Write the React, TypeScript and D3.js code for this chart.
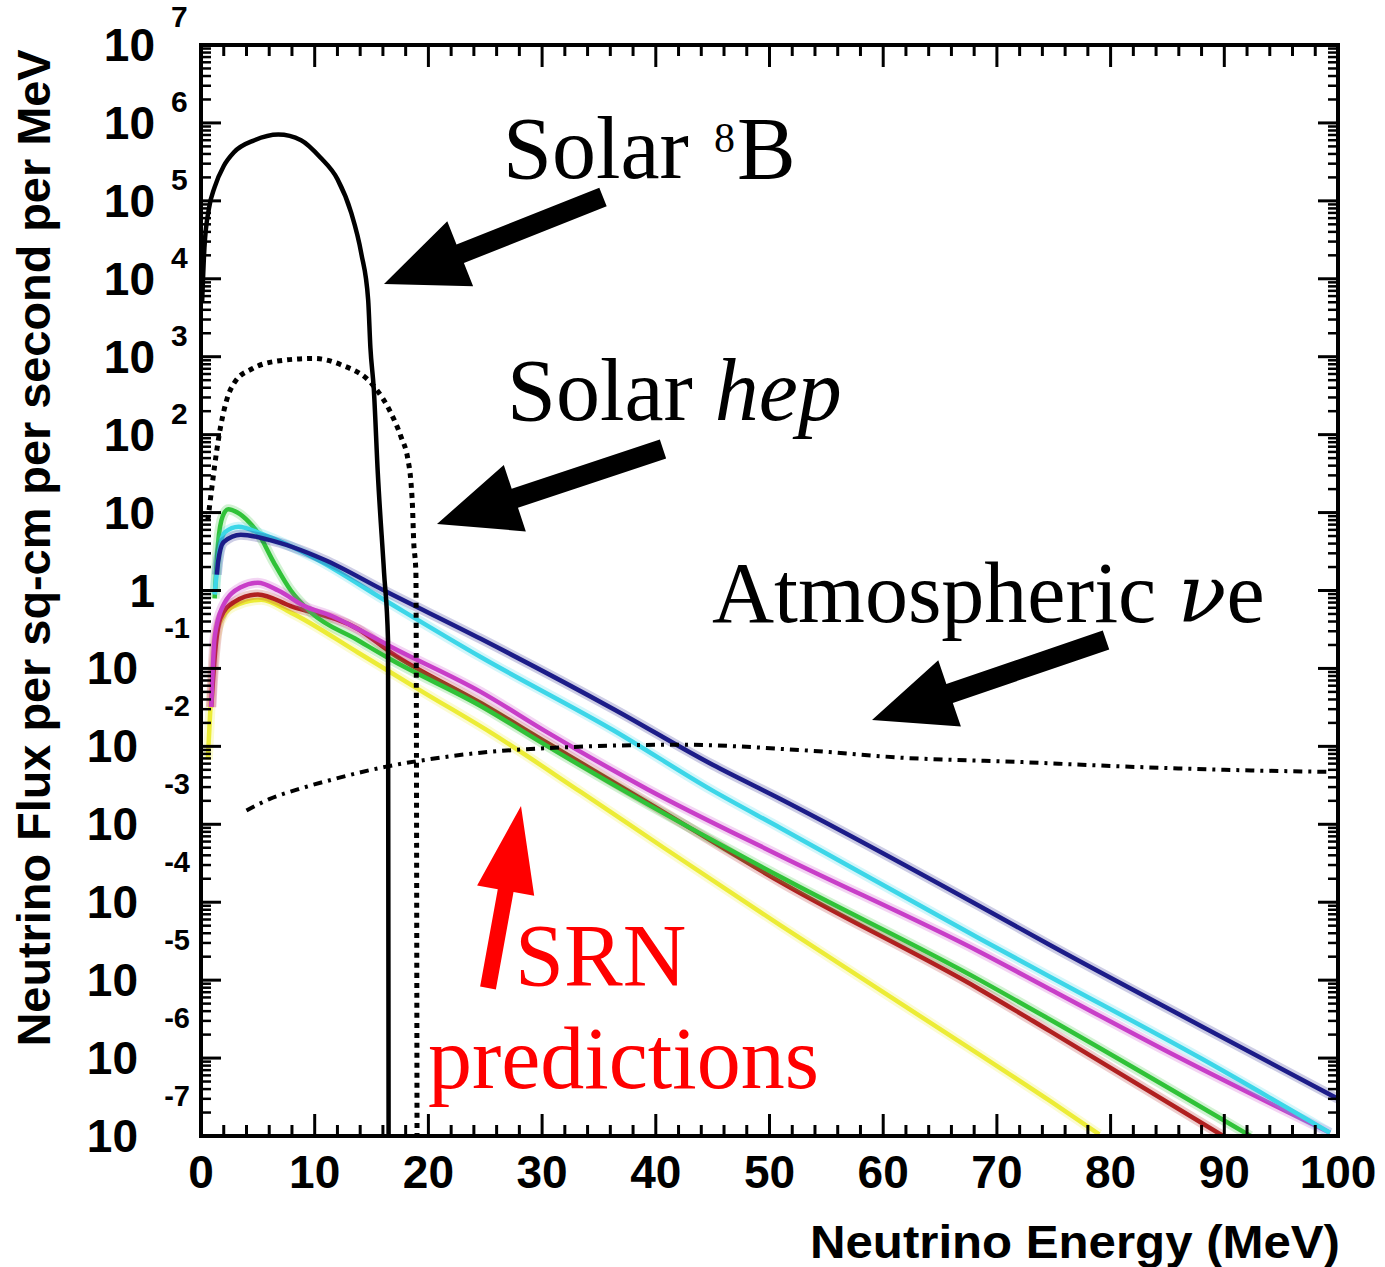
import React from 'react';
import * as d3 from 'd3';

// axes
const xMajorTicks = [0, 10, 20, 30, 40, 50, 60, 70, 80, 90, 100];
const xMinorStep = 2;
const yDecades = [7, 6, 5, 4, 3, 2, 1, 0, -1, -2, -3, -4, -5, -6, -7];

// Solar 8B (solid black)
const b8Energy = [0.1, 0.3, 0.7, 1.2, 2.0, 2.9, 4.7, 6.8, 8.8, 10.5, 12.0, 13.2, 14.1, 14.7, 14.9, 15.2, 15.55, 16.1, 16.45, 16.5];
const b8Flux = [5e3, 2.5e4, 8e4, 1.5e5, 2.8e5, 4.2e5, 6.0e5, 7.1e5, 6.0e5, 3.6e5, 1.9e5, 7.1e4, 2.1e4, 5.4e3, 1.3e3, 3.8e2, 32, 1.7, 0.23, 1e-7];

// Solar hep (dotted black)
const hepEnergy = [0.6, 0.9, 1.2, 1.6, 2.2, 3.0, 4.5, 6.5, 9.9, 12.3, 15.2, 16.7, 17.6, 18.2, 18.45, 18.6, 18.7, 18.9, 19.0];
const hepFlux = [8, 18, 40, 1.0e2, 2.6e2, 4.8e2, 7.0e2, 8.7e2, 9.5e2, 7.9e2, 4.2e2, 1.9e2, 93, 48, 26, 12, 4.5, 1.7, 1e-7];

// Atmospheric nu_e (dash-dot black)
const atmEnergy = [4, 6, 8.5, 11.7, 16.3, 20, 24.6, 30.5, 36, 42, 53, 62, 72, 80, 90, 99.5];
const atmFlux = [1.5e-3, 2.1e-3, 2.8e-3, 3.8e-3, 5.5e-3, 6.8e-3, 8.3e-3, 9.5e-3, 1.02e-2, 1.05e-2, 8.9e-3, 7.1e-3, 6.3e-3, 5.6e-3, 5.0e-3, 4.7e-3];

// SRN predictions
const yellowEnergy = [0.6, 0.9, 1.3, 2.0, 2.9, 5.3, 7.9, 13.8, 19.6, 25.5, 33.4, 40.7, 51, 68.5, 74.7, 79];
const yellowFlux = [6.8e-3, 0.05, 0.25, 0.48, 0.63, 0.76, 0.52, 0.16, 0.049, 0.015, 2.6e-3, 5.0e-4, 5.0e-5, 1.1e-6, 2.8e-7, 1.05e-7];

const redEnergy = [0.9, 1.3, 1.7, 2.9, 5.0, 7.9, 13.8, 16.7, 24.6, 30.5, 39.3, 51, 68.5, 74.7, 89.9];
const redFlux = [0.032, 0.2, 0.44, 0.71, 0.89, 0.63, 0.32, 0.16, 0.036, 0.011, 1.9e-3, 1.8e-4, 7.6e-6, 2.2e-6, 1e-7];

const greenEnergy = [1.2, 1.5, 1.9, 2.4, 3.2, 4.2, 5.0, 6.4, 7.9, 9.7, 13.8, 16.7, 24.6, 30.5, 39.3, 51, 68.5, 74.7, 92.3];
const greenFlux = [0.79, 4.0, 8.9, 11, 10, 7.6, 5.5, 2.3, 1.0, 0.52, 0.23, 0.13, 0.033, 0.010, 1.8e-3, 2.1e-4, 1.0e-5, 3.1e-6, 1e-7];

const magentaEnergy = [0.9, 1.2, 1.9, 3.5, 5.0, 6.8, 9.1, 11.5, 13.8, 16.7, 24.6, 30.5, 39.3, 51, 68.5, 74.7, 86.1, 99.3];
const magentaFlux = [0.032, 0.25, 0.62, 1.1, 1.26, 1.0, 0.63, 0.47, 0.32, 0.19, 0.05, 0.015, 2.8e-3, 3.9e-4, 2.3e-5, 7.6e-6, 1.0e-6, 1.1e-7];

const cyanEnergy = [1.2, 1.6, 2.1, 3.3, 5.5, 10, 16.1, 24.6, 36.3, 45, 51, 68.5, 74.7, 87.9, 99.3];
const cyanFlux = [0.89, 3.2, 5.6, 6.6, 5.2, 2.6, 0.76, 0.14, 0.016, 2.7e-3, 8.9e-4, 3.4e-5, 1.1e-5, 1.0e-6, 1.1e-7];

const blueEnergy = [1.4, 1.5, 2.0, 3.5, 5.9, 10.8, 16.1, 24.6, 36.3, 45, 51, 68.5, 74.7, 87.9, 100];
const blueFlux = [1.6, 2.3, 4.2, 5.2, 4.5, 2.5, 1.0, 0.24, 0.030, 5.8e-3, 2.1e-3, 8.9e-5, 2.8e-5, 2.6e-6, 3.0e-7];

const srnSeries = [
  { name: 'yellow', color: '#ecec36', energy: yellowEnergy, flux: yellowFlux },
  { name: 'red', color: '#b02020', energy: redEnergy, flux: redFlux },
  { name: 'green', color: '#30c238', energy: greenEnergy, flux: greenFlux },
  { name: 'magenta', color: '#c83ec8', energy: magentaEnergy, flux: magentaFlux },
  { name: 'cyan', color: '#3cd6e8', energy: cyanEnergy, flux: cyanFlux },
  { name: 'blue', color: '#1c1c88', energy: blueEnergy, flux: blueFlux },
];

const W = 1385;
const H = 1267;
const left = 201;
const right = 1338;
const top = 45;
const bottom = 1136;

const sans = '"Liberation Sans", Arial, Helvetica, sans-serif';
const serif = '"Liberation Serif", "Times New Roman", Times, serif';

function arrowPoints(tx, ty, hx, hy, shaft, headL, headW) {
  const dx = hx - tx;
  const dy = hy - ty;
  const len = Math.hypot(dx, dy);
  const ux = dx / len;
  const uy = dy / len;
  const px = -uy;
  const py = ux;
  const bx = hx - ux * headL;
  const by = hy - uy * headL;
  const pts = [
    [tx + (px * shaft) / 2, ty + (py * shaft) / 2],
    [bx + (px * shaft) / 2, by + (py * shaft) / 2],
    [bx + (px * headW) / 2, by + (py * headW) / 2],
    [hx, hy],
    [bx - (px * headW) / 2, by - (py * headW) / 2],
    [bx - (px * shaft) / 2, by - (py * shaft) / 2],
    [tx - (px * shaft) / 2, ty - (py * shaft) / 2],
  ];
  return pts.map((p) => p.join(',')).join(' ');
}

export default function App() {
  // scales
  const x = d3.scaleLinear().domain([0, 100]).range([left, right]);
  const y = d3.scaleLog().domain([1e-7, 1e7]).range([bottom, top]);

  const line = d3
    .line<[number, number]>()
    .x((d) => x(d[0]))
    .y((d) => y(d[1]))
    .curve(d3.curveMonotoneX);

  const path = (energy: number[], flux: number[]) =>
    line(energy.map((e, i) => [e, flux[i]] as [number, number])) || '';

  // ticks
  const xMinor = d3.range(0, 100 + 0.001, xMinorStep).filter((v) => v % 10 !== 0);
  const yMinor: number[] = [];
  for (let d = -7; d < 7; d++) {
    for (let m = 2; m <= 9; m++) yMinor.push(m * Math.pow(10, d));
  }

  return (
    <div style={{ position: 'absolute', left: 0, top: 0 }}>
      <svg width={W} height={H} style={{ display: 'block', background: '#fff' }}>
        <defs>
          <clipPath id="plot">
            <rect x={left} y={top} width={right - left} height={bottom - top} />
          </clipPath>
        </defs>

        <g clipPath="url(#plot)" fill="none">
          {srnSeries.map((s) => (
            <g key={s.name}>
              <path d={path(s.energy, s.flux)} stroke={s.color} strokeWidth={10} strokeOpacity={0.22} />
              <path d={path(s.energy, s.flux)} stroke={s.color} strokeWidth={4.5} />
            </g>
          ))}
          <path d={path(atmEnergy, atmFlux)} stroke="#000" strokeWidth={4} strokeDasharray="9,6,3,6" />
          <path d={path(hepEnergy, hepFlux)} stroke="#000" strokeWidth={5} strokeDasharray="5,5" />
          <path d={path(b8Energy, b8Flux)} stroke="#000" strokeWidth={4.5} />
        </g>

        {/* frame + ticks */}
        <g stroke="#000" strokeWidth={3}>
          {xMajorTicks.map((t) => (
            <g key={'xm' + t}>
              <line x1={x(t)} x2={x(t)} y1={bottom} y2={bottom - 22} />
              <line x1={x(t)} x2={x(t)} y1={top} y2={top + 22} />
            </g>
          ))}
          {xMinor.map((t) => (
            <g key={'xn' + t}>
              <line x1={x(t)} x2={x(t)} y1={bottom} y2={bottom - 11} />
              <line x1={x(t)} x2={x(t)} y1={top} y2={top + 11} />
            </g>
          ))}
          {yDecades.map((e) => (
            <g key={'ym' + e}>
              <line x1={left} x2={left + 20} y1={y(Math.pow(10, e))} y2={y(Math.pow(10, e))} />
              <line x1={right} x2={right - 20} y1={y(Math.pow(10, e))} y2={y(Math.pow(10, e))} />
            </g>
          ))}
          {yMinor.map((v, i) => (
            <g key={'yn' + i}>
              <line x1={left} x2={left + 10} y1={y(v)} y2={y(v)} strokeWidth={2.5} />
              <line x1={right} x2={right - 10} y1={y(v)} y2={y(v)} strokeWidth={2.5} />
            </g>
          ))}
          <rect x={left} y={top} width={right - left} height={bottom - top} fill="none" strokeWidth={4} />
        </g>

        {/* x tick labels */}
        <g fontFamily={sans} fontWeight="bold" fontSize={46} textAnchor="middle">
          {xMajorTicks.map((t) => (
            <text key={'xl' + t} x={x(t)} y={1188}>
              {t}
            </text>
          ))}
        </g>

        {/* y tick labels */}
        <g fontFamily={sans} fontWeight="bold">
          {yDecades.map((e) => {
            const yy = y(Math.pow(10, e));
            if (e === 0)
              return (
                <text key={'yl' + e} x={155} y={yy + 16} fontSize={46} textAnchor="end">
                  1
                </text>
              );
            if (e === 1)
              return (
                <text key={'yl' + e} x={155} y={yy + 16} fontSize={46} textAnchor="end">
                  10
                </text>
              );
            if (e > 1)
              return (
                <g key={'yl' + e}>
                  <text x={155} y={yy + 16} fontSize={46} textAnchor="end">
                    10
                  </text>
                  <text x={171} y={e === 7 ? yy - 18 : yy - 11} fontSize={30}>
                    {e}
                  </text>
                </g>
              );
            return (
              <g key={'yl' + e}>
                <text x={138} y={yy + 16} fontSize={46} textAnchor="end">
                  10
                </text>
                <text x={190} y={yy - 30} fontSize={29} textAnchor="end">
                  {'-' + Math.abs(e)}
                </text>
              </g>
            );
          })}
        </g>

        {/* axis titles */}
        <text
          x={1340}
          y={1258}
          fontFamily={sans}
          fontWeight="bold"
          fontSize={46}
          textAnchor="end"
          textLength={530}
          lengthAdjust="spacingAndGlyphs"
        >
          Neutrino Energy (MeV)
        </text>
        <text
          transform="translate(50,548) rotate(-90)"
          fontFamily={sans}
          fontWeight="bold"
          fontSize={46}
          textAnchor="middle"
          textLength={997}
          lengthAdjust="spacingAndGlyphs"
        >
          Neutrino Flux per sq-cm per second per MeV
        </text>

        {/* annotations */}
        <g fontFamily={serif} fontSize={88} fill="#000">
          <text x={503} y={178}>Solar</text>
          <text x={714} y={152} fontSize={42}>8</text>
          <text x={737} y={178}>B</text>
          <text x={507} y={420}>
            Solar <tspan fontStyle="italic">hep</tspan>
          </text>
          <text x={712} y={622} fontSize={86}>
            Atmospheric <tspan fontFamily='"DejaVu Serif", serif' fontStyle="italic" fontSize={80}>ν</tspan>e
          </text>
        </g>
        <g fontFamily={serif} fontSize={88} fill="#ff0000">
          <text x={515} y={985}>SRN</text>
          <text x={428} y={1088}>predictions</text>
        </g>

        {/* arrows */}
        <polygon points={arrowPoints(603, 197, 384, 284, 20, 82, 70)} fill="#000" />
        <polygon points={arrowPoints(663, 449, 437, 524, 20, 82, 70)} fill="#000" />
        <polygon points={arrowPoints(1106, 640, 872, 720, 20, 82, 70)} fill="#000" />
        <polygon points={arrowPoints(488, 988, 521, 806, 16, 86, 58)} fill="#ff0000" />
      </svg>
    </div>
  );
}
